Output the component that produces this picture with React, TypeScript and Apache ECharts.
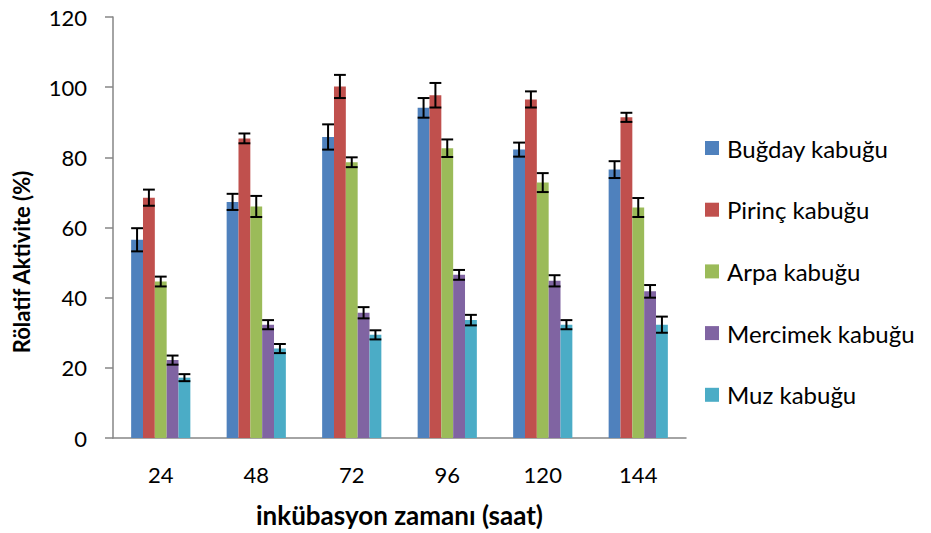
import React, { useEffect, useRef } from 'react';
import * as echarts from 'echarts';

const categories = ['24', '48', '72', '96', '120', '144'];
const seriesNames = ['Buğday kabuğu', 'Pirinç kabuğu', 'Arpa kabuğu', 'Mercimek kabuğu', 'Muz kabuğu'];
const colors = ['#4F81BD', '#C0504D', '#9BBB59', '#8064A2', '#4BACC6'];

const bugday = [56.5, 67.3, 85.8, 94.1, 82.2, 76.5];
const bugdayErr = [3.3, 2.3, 3.6, 2.8, 2.0, 2.4];
const pirinc = [68.5, 85.4, 100.2, 97.7, 96.5, 91.4];
const pirincErr = [2.3, 1.4, 3.3, 3.5, 2.3, 1.3];
const arpa = [44.6, 66.0, 78.6, 82.6, 72.8, 65.7];
const arpaErr = [1.4, 3.0, 1.4, 2.5, 2.7, 2.7];
const mercimek = [22.2, 32.3, 35.7, 46.5, 44.8, 41.8];
const mercimekErr = [1.3, 1.3, 1.6, 1.4, 1.6, 1.8];
const muz = [17.2, 25.5, 29.4, 33.6, 32.3, 32.3];
const muzErr = [1.0, 1.3, 1.3, 1.5, 1.3, 2.3];

const values = [bugday, pirinc, arpa, mercimek, muz];
const errors = [bugdayErr, pirincErr, arpaErr, mercimekErr, muzErr];

const yMin = 0;
const yMax = 120;
const yInterval = 20;

const FONT = 'Lato, "Noto Sans", sans-serif';
const CAT_GAP = 0.38;

export default function App() {
  const ref = useRef<HTMLDivElement>(null);

  useEffect(() => {
    if (!ref.current) return;
    const chart = echarts.init(ref.current, null, { renderer: 'svg' });
    const n = seriesNames.length;

    const barSeries = seriesNames.map((name, i) => ({
      name,
      type: 'bar',
      data: values[i],
      barGap: '0%',
      barCategoryGap: '38%',
      itemStyle: { color: colors[i] },
      z: 2,
    }));

    const errSeries = seriesNames.map((name, i) => ({
      name: 'err_' + i,
      type: 'custom',
      z: 5,
      data: categories.map((_, k) => [k, values[i][k], errors[i][k]]),
      renderItem: (params: any, api: any) => {
        const x = api.value(0);
        const v = api.value(1);
        const e = api.value(2);
        const top = api.coord([x, v + e]);
        const bot = api.coord([x, v - e]);
        const band = api.size([1, 0])[0];
        const groupW = band * (1 - CAT_GAP);
        const bw = groupW / n;
        const cx = top[0] - groupW / 2 + bw * (i + 0.5);
        const half = bw / 2;
        const style = { stroke: '#000', lineWidth: 2 };
        return {
          type: 'group',
          children: [
            { type: 'line', shape: { x1: cx, y1: top[1], x2: cx, y2: bot[1] }, style },
            { type: 'line', shape: { x1: cx - half, y1: top[1], x2: cx + half, y2: top[1] }, style },
            { type: 'line', shape: { x1: cx - half, y1: bot[1], x2: cx + half, y2: bot[1] }, style },
          ],
        };
      },
    }));

    chart.setOption({
      animation: false,
      backgroundColor: '#fff',
      grid: { left: 113, right: 245, top: 17, bottom: 93, containLabel: false },
      legend: {
        data: seriesNames,
        orient: 'vertical',
        left: 700,
        top: 131,
        itemWidth: 14,
        itemHeight: 14,
        itemGap: 37.7,
        icon: 'rect',
        textStyle: { fontFamily: FONT, fontSize: 24, color: '#000', lineHeight: 24, padding: [0, 0, 0, 3] },
      },
      xAxis: {
        type: 'category',
        data: categories,
        axisLine: { lineStyle: { color: '#868686', width: 1.5 } },
        axisTick: { show: false },
        axisLabel: { fontFamily: FONT, fontSize: 22, color: '#000', margin: 25 },
        name: 'inkübasyon zamanı (saat)',
        nameLocation: 'middle',
        nameGap: 64,
        nameTextStyle: { fontFamily: FONT, fontSize: 26, fontWeight: 'bold', color: '#000' },
      },
      yAxis: {
        type: 'value',
        min: yMin,
        max: yMax,
        interval: yInterval,
        axisLine: { show: true, lineStyle: { color: '#868686', width: 1.5 } },
        axisTick: { show: true, length: 8, lineStyle: { color: '#868686', width: 1.5 } },
        splitLine: { show: false },
        axisLabel: { fontFamily: FONT, fontSize: 22, color: '#000', margin: 26 },
      },
      graphic: [
        {
          type: 'text',
          x: 21,
          y: 262,
          rotation: Math.PI / 2,
          style: {
            text: 'Rölatif Aktivite (%)',
            fontFamily: FONT,
            fontSize: 22,
            fontWeight: 'bold',
            fill: '#000',
            textAlign: 'center',
            textVerticalAlign: 'middle',
          },
        },
      ],
      series: [...barSeries, ...errSeries],
    });

    return () => chart.dispose();
  }, []);

  return (
    <div
      ref={ref}
      style={{ position: 'fixed', left: 0, top: 0, width: 931, height: 533, background: '#fff' }}
    />
  );
}
